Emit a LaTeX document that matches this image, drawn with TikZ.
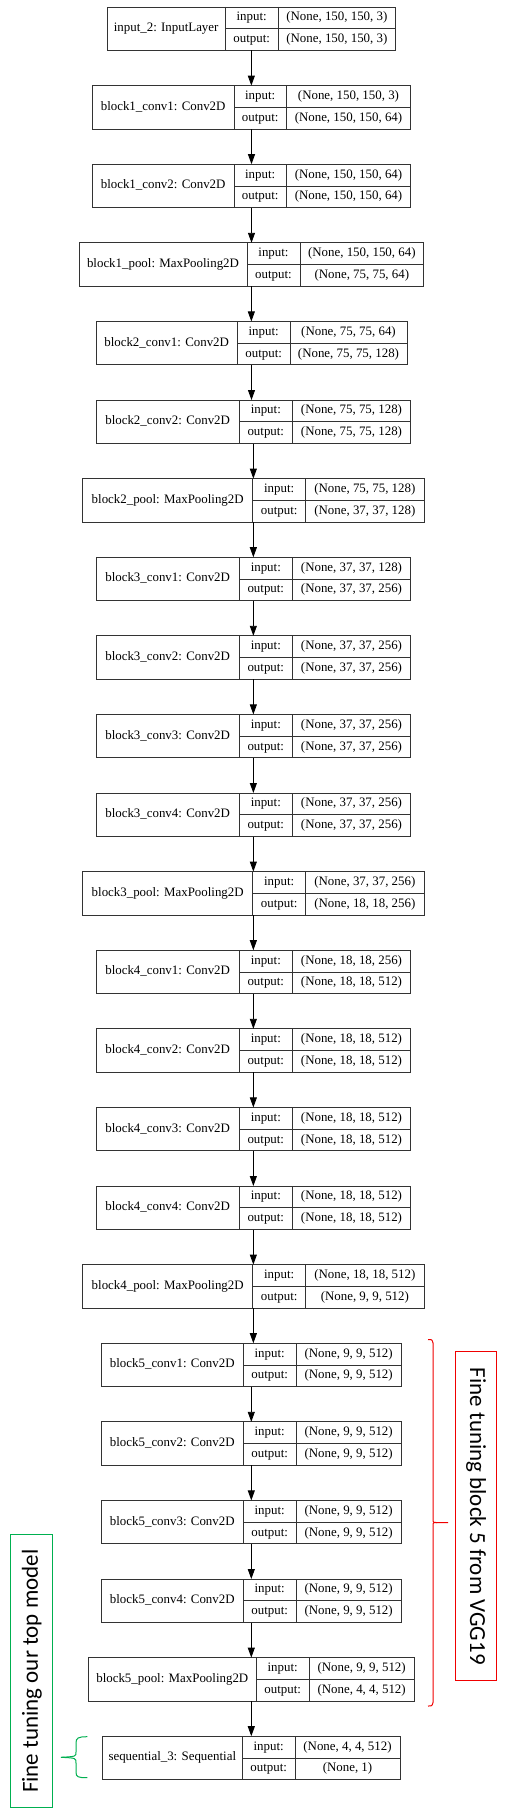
\documentclass[tikz,border=0pt]{standalone}
\usepackage{fontspec}
\setmainfont{Liberation Serif}
\newfontfamily\calfont{Carlito}
\usetikzlibrary{arrows.meta}
\definecolor{myred}{RGB}{240,0,0}
\definecolor{mygreen}{RGB}{0,176,80}
\newcommand{\layer}[9]{%
 \pgfmathsetmacro{\yt}{7+78.6*#2}%
 \pgfmathsetmacro{\ym}{\yt+21.75}%
 \pgfmathsetmacro{\yb}{\yt+43.5}%
 \node[box, minimum width={#6pt-#3pt}, minimum height=43.5pt] (#1) at (#3,\yt) {};
 \draw[sep] (#4,\yt) -- (#4,\yb) (#5,\yt) -- (#5,\yb) (#4,\ym) -- (#6,\ym);
 \node[txt] (#1n) at ({(#3+#4)/2},\ym) {#7};
 \node[txt] (#1i) at ({(#4+#5)/2},{\yt+10.875}) {input:};
 \node[txt] (#1o) at ({(#4+#5)/2},{\ym+10.875}) {output:};
 \node[txt] (#1a) at ({(#5+#6)/2},{\yt+10.875}) {#8};
 \node[txt] (#1b) at ({(#5+#6)/2},{\ym+10.875}) {#9};
}
\begin{document}
\begin{tikzpicture}[x=1pt,y=-1pt,
 box/.style={draw=black!80, line width=0.9pt, inner sep=0pt, outer sep=0pt, anchor=north west},
 sep/.style={draw=black!80, line width=0.9pt},
 txt/.style={font=\fontsize{12.9}{14}\selectfont, inner sep=0pt, text height=8.5pt, text depth=2.5pt, anchor=center},
 arr/.style={line width=0.9pt, -{Triangle[length=10pt,width=7pt]}},
 note/.style={font=\calfont\fontsize{23}{26}\selectfont, inner sep=0pt, anchor=center},
 ]
\useasboundingbox (0,0) rectangle (527,1809);
\fill[white] (0,0) rectangle (527,1809);

\layer{L0}{0}{107}{225.3}{278}{395.7}{input\_2: InputLayer}{(None, 150, 150, 3)}{(None, 150, 150, 3)}
\layer{L1}{1}{92.3}{234}{286.3}{410.7}{block1\_conv1: Conv2D}{(None, 150, 150, 3)}{(None, 150, 150, 64)}
\layer{L2}{2}{92.3}{234}{286.3}{410.7}{block1\_conv2: Conv2D}{(None, 150, 150, 64)}{(None, 150, 150, 64)}
\layer{L3}{3}{79}{247}{300}{423.7}{block1\_pool: MaxPooling2D}{(None, 150, 150, 64)}{(None, 75, 75, 64)}
\layer{L4}{4}{96}{237.3}{290}{407}{block2\_conv1: Conv2D}{(None, 75, 75, 64)}{(None, 75, 75, 128)}
\layer{L5}{5}{96}{239.3}{292.3}{410.7}{block2\_conv2: Conv2D}{(None, 75, 75, 128)}{(None, 75, 75, 128)}
\layer{L6}{6}{82.7}{252.7}{305.7}{424}{block2\_pool: MaxPooling2D}{(None, 75, 75, 128)}{(None, 37, 37, 128)}
\layer{L7}{7}{96}{239.3}{292.3}{410.7}{block3\_conv1: Conv2D}{(None, 37, 37, 128)}{(None, 37, 37, 256)}
\layer{L8}{8}{96}{239.3}{292.3}{410.7}{block3\_conv2: Conv2D}{(None, 37, 37, 256)}{(None, 37, 37, 256)}
\layer{L9}{9}{96}{239.3}{292.3}{410.7}{block3\_conv3: Conv2D}{(None, 37, 37, 256)}{(None, 37, 37, 256)}
\layer{L10}{10}{96}{239.3}{292.3}{410.7}{block3\_conv4: Conv2D}{(None, 37, 37, 256)}{(None, 37, 37, 256)}
\layer{L11}{11}{82.7}{252.7}{305.7}{424}{block3\_pool: MaxPooling2D}{(None, 37, 37, 256)}{(None, 18, 18, 256)}
\layer{L12}{12}{96}{239.3}{292.3}{410.7}{block4\_conv1: Conv2D}{(None, 18, 18, 256)}{(None, 18, 18, 512)}
\layer{L13}{13}{96}{239.3}{292.3}{410.7}{block4\_conv2: Conv2D}{(None, 18, 18, 512)}{(None, 18, 18, 512)}
\layer{L14}{14}{96}{239.3}{292.3}{410.7}{block4\_conv3: Conv2D}{(None, 18, 18, 512)}{(None, 18, 18, 512)}
\layer{L15}{15}{96}{239.3}{292.3}{410.7}{block4\_conv4: Conv2D}{(None, 18, 18, 512)}{(None, 18, 18, 512)}
\layer{L16}{16}{82.7}{252.7}{305.7}{424}{block4\_pool: MaxPooling2D}{(None, 18, 18, 512)}{(None, 9, 9, 512)}
\layer{L17}{17}{101.3}{243.3}{296}{401.3}{block5\_conv1: Conv2D}{(None, 9, 9, 512)}{(None, 9, 9, 512)}
\layer{L18}{18}{101.3}{243.3}{296}{401.3}{block5\_conv2: Conv2D}{(None, 9, 9, 512)}{(None, 9, 9, 512)}
\layer{L19}{19}{101.3}{243.3}{296}{401.3}{block5\_conv3: Conv2D}{(None, 9, 9, 512)}{(None, 9, 9, 512)}
\layer{L20}{20}{101.3}{243.3}{296}{401.3}{block5\_conv4: Conv2D}{(None, 9, 9, 512)}{(None, 9, 9, 512)}
\layer{L21}{21}{88.3}{256.3}{309}{414.3}{block5\_pool: MaxPooling2D}{(None, 9, 9, 512)}{(None, 4, 4, 512)}
\layer{L22}{22}{102.3}{242.3}{295}{400}{sequential\_3: Sequential}{(None, 4, 4, 512)}{(None, 1)}

\foreach \a/\b in {L0/L1,L1/L2,L2/L3,L3/L4,L4/L5,L5/L6,L6/L7,L7/L8,L8/L9,L9/L10,L10/L11,L11/L12,L12/L13,L13/L14,L14/L15,L15/L16,L16/L17,L17/L18,L18/L19,L19/L20,L20/L21,L21/L22}
  \draw[arr] (\a.south) -- (\a.south |- \b.north);

% red brace and box
\draw[myred, line width=1pt] (428,1339.5) .. controls (432,1339.5) .. (433,1343) -- (433,1519)
  .. controls (433,1522.5) .. (437,1522.5) -- (448,1522.5);
\draw[myred, line width=1pt] (437,1522.5) .. controls (433,1522.5) .. (433,1526) -- (433,1702.5)
  .. controls (432,1706) .. (428,1706);
\node[draw=myred, line width=1pt, minimum width=41.3pt, minimum height=329pt, inner sep=0pt, anchor=north west] (redbox) at (455,1351.3) {};
\node[note, rotate=-90] (redtxt) at (redbox.center) {Fine tuning block 5 from VGG19};

% green brace and box
\draw[mygreen, line width=1pt] (87.3,1736.7) .. controls (78,1736.7) and (76,1738) .. (76,1743) -- (76,1752)
  .. controls (76,1756.5) .. (61,1757.3);
\draw[mygreen, line width=1pt] (61,1757.3) .. controls (76,1758) .. (76,1763) -- (76,1772)
  .. controls (76,1777) and (78,1777.7) .. (87.3,1777.7);
\node[draw=mygreen, line width=1pt, minimum width=42pt, minimum height=272.7pt, inner sep=0pt, anchor=north west] (greenbox) at (10.3,1534.3) {};
\node[note, rotate=90] (greentxt) at (greenbox.center) {Fine tuning our top model};
\end{tikzpicture}
\end{document}
